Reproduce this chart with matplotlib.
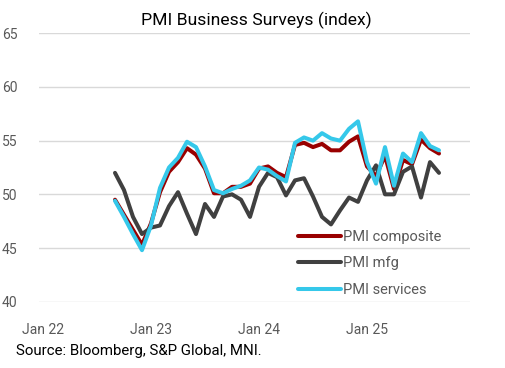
import numpy as np
import pandas as pd
import matplotlib
matplotlib.use('Agg')
import matplotlib.pyplot as plt

plt.rcParams['font.family'] = ['Roboto', 'DejaVu Sans']

# monthly data, Sep 2022 .. Sep 2025
months = pd.period_range('2022-09', '2025-09', freq='M')

composite = [49.5, 48.1, 46.7, 45.3, 47.3, 50.2, 52.1, 53.0, 54.3, 53.7, 52.4, 50.1,
             50.1, 50.7, 50.7, 51.0, 52.4, 52.6, 52.0, 51.6, 54.6, 54.8, 54.4, 54.7,
             54.1, 54.1, 54.9, 55.4, 52.6, 51.7, 53.6, 50.5, 53.2, 52.8, 55.1, 54.3,
             53.8]
mfg = [52.0, 50.4, 47.9, 46.3, 46.9, 47.1, 48.9, 50.2, 48.2, 46.3, 49.1, 47.9,
       49.8, 50.0, 49.5, 47.9, 50.7, 52.0, 51.6, 49.9, 51.3, 51.5, 49.8, 47.9,
       47.2, 48.5, 49.7, 49.3, 51.3, 52.7, 50.0, 50.0, 52.1, 52.6, 49.7, 53.0,
       52.0]
services = [49.4, 47.9, 46.3, 44.8, 47.1, 50.6, 52.5, 53.4, 54.9, 54.4, 52.6, 50.4,
            50.1, 50.5, 50.8, 51.3, 52.5, 52.3, 51.7, 51.2, 54.8, 55.3, 55.0, 55.7,
            55.2, 55.0, 56.1, 56.8, 53.0, 51.0, 54.4, 50.8, 53.8, 53.0, 55.7, 54.5,
            54.1]

year_ticks = [0, 12, 24, 36]
year_labels = ['Jan 22', 'Jan 23', 'Jan 24', 'Jan 25']
y_ticks = [40, 45, 50, 55, 60, 65]

x = np.array([(m.year - 2022) * 12 + m.month - 1 for m in months])

grey = '#595959'
fig = plt.figure(figsize=(5.05, 3.68), dpi=100)
ax = fig.add_axes([38.5 / 505, 1 - 301.7 / 368, 432 / 505, 268.4 / 368])

lw = 2.9
ax.plot(x, composite, color='#990000', lw=lw, solid_capstyle='round', label='PMI composite')
ax.plot(x, mfg, color='#404040', lw=lw, solid_capstyle='round', label='PMI mfg')
ax.plot(x, services, color='#35c8ea', lw=lw, solid_capstyle='round', label='PMI services')

ax.set_xlim(-0.5, 47.5)
ax.set_ylim(40, 65)
ax.set_yticks(y_ticks)
ax.set_xticks(year_ticks)
ax.set_xticklabels(year_labels)
ax.grid(axis='y', color='#d9d9d9', lw=1.0)
ax.set_axisbelow(True)
for sp in ax.spines.values():
    sp.set_visible(False)
ax.tick_params(length=0, colors=grey, labelsize=10)
ax.tick_params(axis='y', pad=15)
ax.tick_params(axis='x', pad=15)

fig.text(256 / 505, 1 - 20 / 368, 'PMI Business Surveys (index)', ha='center', va='center',
         fontsize=12.6, color='black')
fig.text(16 / 505, 1 - 351.5 / 368, 'Source: Bloomberg, S&P Global, MNI.', ha='left', va='center',
         fontsize=10.8, color='black')

leg = ax.legend(loc='upper left', bbox_to_anchor=(298 / 505, 1 - 230 / 368),
                bbox_transform=fig.transFigure, frameon=False, fontsize=10.5,
                handlelength=2.95, handletextpad=0.15, labelspacing=0.85,
                borderpad=0, borderaxespad=0)
for t in leg.get_texts():
    t.set_color(grey)

fig.savefig('out.png', dpi=100)
